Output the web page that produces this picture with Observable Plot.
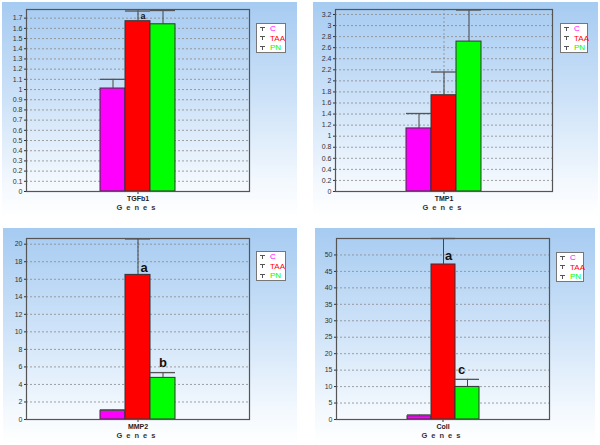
<!DOCTYPE html>
<html><head><meta charset="utf-8">
<script src="https://cdn.jsdelivr.net/npm/d3@7"></script>
<script src="https://cdn.jsdelivr.net/npm/@observablehq/plot@0.6"></script>
<style>
body{margin:0;background:#fff;}
#wrap{position:relative;width:600px;height:445px;overflow:hidden;font-family:"Liberation Sans",Arial,sans-serif;}
.panel{position:absolute;background:linear-gradient(to bottom,#a6cbf1 0%,#cde2f8 45%,#f4f9fe 85%,#ffffff 100%);}
.panel svg{position:absolute;left:0;top:0;}
.legend{position:absolute;background:#fff;border:1px solid #777;font-size:8px;line-height:9.5px;padding:0 3px;box-sizing:border-box;}
.legend div{display:flex;align-items:center;white-space:nowrap;height:9.5px;}
.legend svg{display:block;margin-right:5px;flex:none;}
</style>
</head><body><div id="wrap"></div>
<script>
// ---- data ----
const genes = ["TGFb1", "TMP1", "MMP2", "Coll"];
const groups = ["C", "TAA", "PN"];
const groupColors = ["#ff00ff", "#ff0000", "#00ff00"];

const meanTGFb1 = [1.01, 1.67, 1.64];
const seTGFb1   = [0.09, 0.10, 0.135];
const meanTMP1  = [1.14, 1.74, 2.71];
const seTMP1    = [0.27, 0.42, 0.57];
const meanMMP2  = [1.0, 16.5, 4.75];
const seMMP2    = [0.1, 4.1, 0.6];
const meanColl  = [1.0, 47.1, 9.9];
const seColl    = [0.4, 7.9, 2.3];

const sigTGFb1 = ["", "a", ""];
const sigTMP1  = ["", "", ""];
const sigMMP2  = ["", "a", "b"];
const sigColl  = ["", "a", "c"];
// letter sits on the bar top ("mean") or on the error bar ("err")
const sigAtTGFb1 = ["", "mean", ""];
const sigAtTMP1  = ["", "", ""];
const sigAtMMP2  = ["", "mean", "err"];
const sigAtColl  = ["", "mean", "err"];

const ticksTGFb1 = [0, 0.1, 0.2, 0.3, 0.4, 0.5, 0.6, 0.7, 0.8, 0.9, 1, 1.1, 1.2, 1.3, 1.4, 1.5, 1.6, 1.7];
const ticksTMP1  = [0, 0.2, 0.4, 0.6, 0.8, 1, 1.2, 1.4, 1.6, 1.8, 2, 2.2, 2.4, 2.6, 2.8, 3, 3.2];
const ticksMMP2  = [0, 2, 4, 6, 8, 10, 12, 14, 16, 18, 20];
const ticksColl  = [0, 5, 10, 15, 20, 25, 30, 35, 40, 45, 50];
const yMax = [1.785, 3.29, 20.65, 55.0];
const xLabel = "Genes";

const series = [
  {mean: meanTGFb1, se: seTGFb1, sig: sigTGFb1, sigAt: sigAtTGFb1, ticks: ticksTGFb1},
  {mean: meanTMP1,  se: seTMP1,  sig: sigTMP1,  sigAt: sigAtTMP1,  ticks: ticksTMP1},
  {mean: meanMMP2,  se: seMMP2,  sig: sigMMP2,  sigAt: sigAtMMP2,  ticks: ticksMMP2},
  {mean: meanColl,  se: seColl,  sig: sigColl,  sigAt: sigAtColl,  ticks: ticksColl}
];

// ---- layout (page pixels) ----
const layouts = [
  {x: 2,   y: 2,   w: 295, h: 215, ml: 24, mr: 48, mt: 7,  mb: 26, leg: [256, 23, 30, 30], sigSize: 9,  sigDx: [0, 5, 0],  sigDy: [0, -2, 0]},
  {x: 313, y: 2,   w: 285, h: 215, ml: 22, mr: 46, mt: 7,  mb: 26, leg: [560, 23, 28, 30], sigSize: 9,  sigDx: [0, 0, 0],  sigDy: [0, 0, 0]},
  {x: 3,   y: 228, w: 294, h: 217, ml: 23, mr: 48, mt: 10, mb: 26, leg: [256, 251, 30, 30], sigSize: 13, sigDx: [0, 6, 0], sigDy: [0, -3, -6]},
  {x: 315, y: 228, w: 280, h: 217, ml: 21, mr: 46, mt: 10, mb: 26, leg: [556, 252, 28, 30], sigSize: 13, sigDx: [0, 5, -6], sigDy: [0, -4, -5]}
];

const wrap = document.getElementById("wrap");

genes.forEach((gene, gi) => {
  const s = series[gi];
  const L = layouts[gi];
  const rows = groups.map((g, i) => ({gene, group: g, mean: s.mean[i], se: s.se[i], top: s.mean[i] + s.se[i],
    sig: s.sig[i], sigY: s.sigAt[i] === "err" ? s.mean[i] + s.se[i] : s.mean[i], dx: L.sigDx[i], dy: L.sigDy[i]}));
  const sigRows = rows.filter(d => d.sig);

  const panel = document.createElement("div");
  panel.className = "panel";
  Object.assign(panel.style, {left: L.x + "px", top: L.y + "px", width: L.w + "px", height: L.h + "px"});
  wrap.appendChild(panel);

  const marks = [
    Plot.gridY(s.ticks, {stroke: "#8a8a8a", strokeOpacity: 1, strokeDasharray: "2,2", strokeWidth: 0.8}),
    Plot.ruleX([groups[1]], {x: d => d, stroke: "#8a8a8a", strokeDasharray: "2,2", strokeWidth: 0.8}),
    Plot.barY(rows, {x: "group", y: "mean", fill: "group", stroke: "#333", strokeWidth: 1}),
    Plot.ruleX(rows, {x: "group", y1: "mean", y2: "top", stroke: "#444", strokeWidth: 1}),
    Plot.tickY(rows, {x: "group", y: "top", stroke: "#555", strokeWidth: 1.3}),
    Plot.frame({stroke: "#555", strokeWidth: 1.2}),
    Plot.text([xLabel], {frameAnchor: "bottom", dy: 18, text: d => d, fontSize: 7.5, fontWeight: "bold", fill: "#333"})
  ];
  sigRows.forEach(d => {
    marks.push(Plot.text([d], {x: "group", y: "sigY", text: "sig", dx: d.dx, dy: d.dy, fontSize: L.sigSize, fontWeight: "bold", fill: "#111", lineAnchor: "bottom"}));
  });

  const chart = Plot.plot({
    width: L.w, height: L.h,
    marginLeft: L.ml, marginRight: L.mr, marginTop: L.mt, marginBottom: L.mb,
    style: {background: "transparent", fontSize: "7px", fontFamily: "'Liberation Sans', Arial, sans-serif", color: "#333"},
    facet: {data: rows, x: "gene"},
    fx: {domain: [gene], padding: 0, axis: "bottom", label: null, tickSize: 3, tickPadding: 2},
    x: {domain: groups, paddingInner: 0, paddingOuter: 2.8, axis: null},
    y: {domain: [0, yMax[gi]], ticks: s.ticks, tickFormat: "~g", tickSize: 2, tickPadding: 2, label: null},
    color: {domain: groups, range: groupColors},
    marks
  });
  panel.appendChild(chart);

  d3.select(chart).selectAll("text").each(function() {
    const t = this.textContent;
    if (t === xLabel) this.setAttribute("letter-spacing", "4px");
    if (t === gene) { this.setAttribute("font-weight", "bold"); this.setAttribute("fill", "#222"); }
  });

  // legend
  const leg = document.createElement("div");
  leg.className = "legend";
  Object.assign(leg.style, {left: L.leg[0] + "px", top: L.leg[1] + "px", width: L.leg[2] + "px", height: L.leg[3] + "px"});
  groups.forEach((g, i) => {
    const row = document.createElement("div");
    row.innerHTML = `<svg width="5" height="6" viewBox="0 0 5 6" shape-rendering="crispEdges"><rect x="0" y="1" width="5" height="1" fill="#555"/><rect x="2" y="1" width="1" height="4" fill="#555"/></svg><span style="color:${groupColors[i]}">${g}</span>`;
    leg.appendChild(row);
  });
  wrap.appendChild(leg);
});
</script>
</body></html>
